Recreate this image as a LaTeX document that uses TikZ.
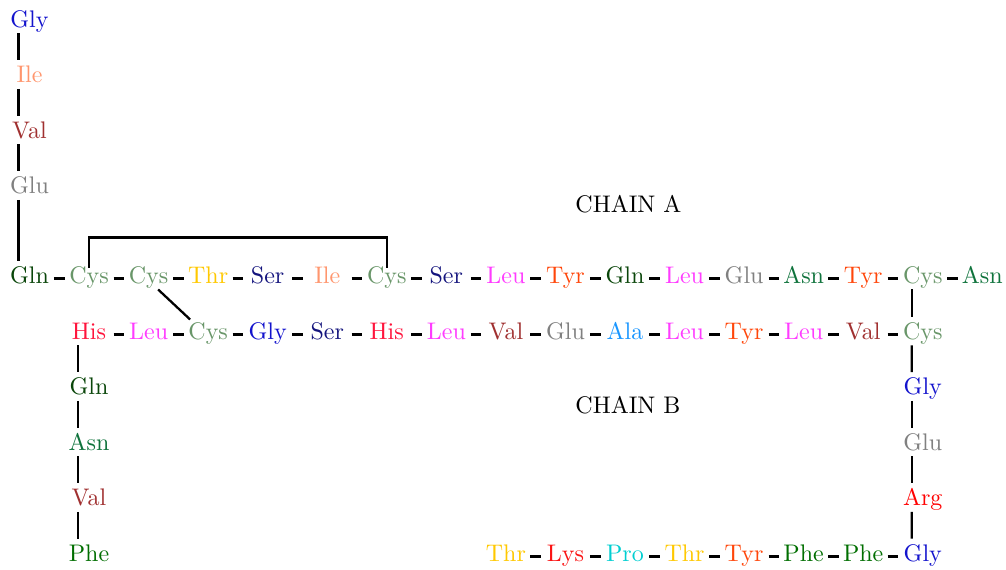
\documentclass[tikz,border=0pt]{standalone}
\usetikzlibrary{calc}
\newlength{\pxu}
\setlength{\pxu}{0.4167pt}

% residue colours
\definecolor{Gly}{RGB}{20,20,205}
\definecolor{Ile}{RGB}{255,150,110}
\definecolor{Val}{RGB}{160,48,48}
\definecolor{Glu}{RGB}{128,128,128}
\definecolor{Gln}{RGB}{10,70,10}
\definecolor{Cys}{RGB}{105,150,105}
\definecolor{Thr}{RGB}{255,200,0}
\definecolor{Ser}{RGB}{20,20,125}
\definecolor{Leu}{RGB}{255,60,255}
\definecolor{Tyr}{RGB}{255,70,10}
\definecolor{Asn}{RGB}{15,115,60}
\definecolor{His}{RGB}{255,20,60}
\definecolor{Ala}{RGB}{25,150,255}
\definecolor{Arg}{RGB}{255,0,0}
\definecolor{Lys}{RGB}{250,20,20}
\definecolor{Pro}{RGB}{0,206,209}
\definecolor{Phe}{RGB}{0,110,0}

\begin{document}
\begin{tikzpicture}[x=0.4167pt,y=-0.4167pt,
  res/.style={inner sep=0pt, anchor=base, minimum width=48\pxu,
    text height=22.5\pxu, text depth=5.5\pxu},
  bond/.style={line width=0.95pt},
  label/.style={anchor=base west, inner sep=0pt}]
\useasboundingbox (0,0) rectangle (1006,570);

% chain A, main row
\foreach \n [count=\k from 0] in {Gln,Cys,Cys,Thr,Ser,Ile,Cys,Ser,Leu,Tyr,Gln,Leu,Glu,Asn,Tyr,Cys,Asn}
  \node[res,text=\n] (a\k) at ({29.5+59.55*\k},283.5) {\n};
% chain A, N-terminal column
\foreach \n/\y [count=\i from 0] in {Gly/27.5,Ile/83,Val/138.5,Glu/194}
  \node[res,text=\n] (c\i) at (29.5,\y) {\n};

% chain B, main row
\foreach \n [count=\k from 1] in {His,Leu,Cys,Gly,Ser,His,Leu,Val,Glu,Ala,Leu,Tyr,Leu,Val,Cys}
  \node[res,text=\n] (b\k) at ({29.5+59.55*\k},339.5) {\n};
% chain B, N-terminal column
\foreach \n/\y [count=\i from 1] in {Gln/395,Asn/450.5,Val/506,Phe/561.5}
  \node[res,text=\n] (d\i) at (89.05,\y) {\n};
% chain B, right column
\foreach \n/\y [count=\i from 1] in {Gly/395,Glu/450.5,Arg/506}
  \node[res,text=\n] (r\i) at (922.75,\y) {\n};
% chain B, C-terminal row
\foreach \n [count=\k from 8] in {Thr,Lys,Pro,Thr,Tyr,Phe,Phe,Gly}
  \node[res,text=\n] (e\k) at ({29.5+59.55*\k},561.5) {\n};

\node[label] (chainA) at (575,213) {CHAIN A};
\node[label] (chainB) at (575,414) {CHAIN B};

% peptide bonds along the rows
\foreach \k in {0,...,15}{
  \pgfmathtruncatemacro\j{\k+1}
  \draw[bond] ([yshift=-3.5\pxu]a\k.east) -- ([yshift=-3.5\pxu]a\j.west);
}
\foreach \k in {1,...,14}{
  \pgfmathtruncatemacro\j{\k+1}
  \draw[bond] ([yshift=-3.5\pxu]b\k.east) -- ([yshift=-3.5\pxu]b\j.west);
}
\foreach \k in {8,...,14}{
  \pgfmathtruncatemacro\j{\k+1}
  \draw[bond] ([yshift=-3.5\pxu]e\k.east) -- ([yshift=-3.5\pxu]e\j.west);
}

% peptide bonds along the columns
\foreach \u/\v in {c0/c1,c1/c2,c2/c3,c3/a0,b1/d1,d1/d2,d2/d3,d3/d4,a15/b15,b15/r1,r1/r2,r2/r3,r3/e15}
  \draw[bond] ([xshift=-11\pxu]\u.south) -- ([xshift=-11\pxu]\v.north);

% disulfide bridges
\draw[bond] ([yshift=-7\pxu]a1.north) -- ++(0,-30) -| ([yshift=-7\pxu]a6.north);
\draw[bond] ([xshift=9.5\pxu]a2.south) -- ([xshift=-18\pxu,yshift=-3\pxu]b3.north);
\end{tikzpicture}
\end{document}
